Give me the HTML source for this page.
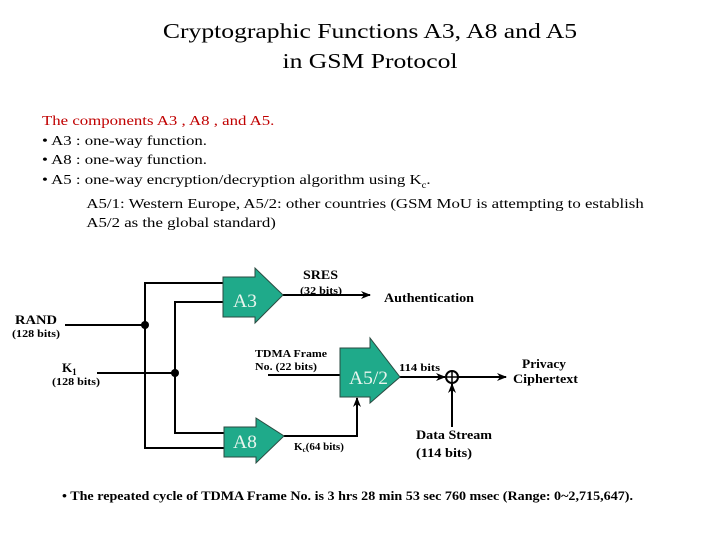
<!DOCTYPE html>
<html><head><meta charset="utf-8"><style>
body{margin:0;width:720px;height:540px;background:#fff;position:relative;font-family:"Liberation Serif",serif;overflow:hidden}
.t{position:absolute;white-space:nowrap}
</style></head><body>
<div class="t" style="left:0;width:740px;text-align:center;top:16px;font-size:21px;line-height:30px;transform:scaleX(1.22);transform-origin:370px 0">Cryptographic Functions A3, A8 and A5<br>in GSM Protocol</div>
<div class="t" style="left:42px;top:112px;font-size:14px;line-height:19.5px;transform:scaleX(1.2);transform-origin:0 0">
<span style="color:#c00000">The components A3 , A8 , and A5.</span><br>
• A3 : one-way function.<br>
• A8 : one-way function.<br>
• A5 : one-way encryption/decryption algorithm using K<sub style="font-size:9px">c</sub>.<br>
<span style="padding-left:37px">A5/1: Western Europe, A5/2: other countries (GSM MoU is attempting to establish</span><br>
<span style="padding-left:37px">A5/2 as the global standard)</span></div>
<svg width="720" height="540" style="position:absolute;left:0;top:0" font-family="Liberation Serif,serif" font-weight="bold">
<defs><marker id="a" markerWidth="10" markerHeight="8" refX="9" refY="4" orient="auto" markerUnits="userSpaceOnUse"><path d="M0,0L10,4L0,8L3,4z" fill="#000"/></marker></defs>
<g stroke="#000" stroke-width="2" fill="none">
<polyline points="223,283 145,283 145,448 224,448"/>
<polyline points="223,302 175,302 175,433 224,433"/>
<line x1="65" y1="325" x2="145" y2="325"/>
<line x1="97" y1="373" x2="175" y2="373"/>
<line x1="283" y1="295" x2="370" y2="295" marker-end="url(#a)"/>
<polyline points="284,436 357,436 357,398" marker-end="url(#a)"/>
<line x1="268" y1="375" x2="340" y2="375"/>
<line x1="400" y1="377" x2="445" y2="377" marker-end="url(#a)"/>
<line x1="458" y1="377" x2="506" y2="377" marker-end="url(#a)"/>
<line x1="452" y1="427" x2="452" y2="384" marker-end="url(#a)"/>
<circle cx="452" cy="377" r="6"/>
<line x1="446" y1="377" x2="458" y2="377" stroke-width="1.5"/>
<line x1="452" y1="371" x2="452" y2="383" stroke-width="1.5"/>
</g>
<circle cx="145" cy="325" r="4"/><circle cx="175" cy="373" r="4"/>
<g fill="#1faa8a" stroke="#2a4a40" stroke-width="1">
<path d="M223,277H255V268L283,295L255,323V317H223Z"/>
<path d="M224,427H256V418L284,436L256,463V457H224Z"/>
<path d="M340,348H370V338L400,377L370,403V397H340Z"/>
</g>
<g fill="#e8f5ee" font-weight="normal" font-size="19">
<text x="233" y="307" textLength="24" lengthAdjust="spacingAndGlyphs">A3</text><text x="233" y="448" textLength="24" lengthAdjust="spacingAndGlyphs">A8</text><text x="349" y="384" textLength="39" lengthAdjust="spacingAndGlyphs">A5/2</text>
</g>
<g font-size="12" lengthAdjust="spacingAndGlyphs">
<text x="303" y="279" font-size="13" textLength="35" lengthAdjust="spacingAndGlyphs">SRES</text>
<text x="300" y="294" font-size="10" textLength="42" lengthAdjust="spacingAndGlyphs">(32 bits)</text>
<text x="384" y="302" font-size="13" textLength="90" lengthAdjust="spacingAndGlyphs">Authentication</text>
<text x="15" y="324" font-size="13" textLength="42" lengthAdjust="spacingAndGlyphs">RAND</text>
<text x="12" y="337" font-size="10" textLength="48" lengthAdjust="spacingAndGlyphs">(128 bits)</text>
<text x="62" y="372" font-size="13">K<tspan font-size="9" dy="3">1</tspan></text>
<text x="52" y="385" font-size="10" textLength="48" lengthAdjust="spacingAndGlyphs">(128 bits)</text>
<text x="255" y="357" font-size="11" textLength="72" lengthAdjust="spacingAndGlyphs">TDMA Frame</text>
<text x="255" y="370" font-size="11" textLength="62" lengthAdjust="spacingAndGlyphs">No. (22 bits)</text>
<text x="399" y="371" font-size="11" textLength="41" lengthAdjust="spacingAndGlyphs">114 bits</text>
<text x="522" y="368" font-size="13" textLength="44" lengthAdjust="spacingAndGlyphs">Privacy</text>
<text x="513" y="383" font-size="13" textLength="65" lengthAdjust="spacingAndGlyphs">Ciphertext</text>
<text x="294" y="450" font-size="11">K<tspan font-size="7" dy="2">c</tspan><tspan dy="-2">(64 bits)</tspan></text>
<text x="416" y="439" font-size="13" textLength="76" lengthAdjust="spacingAndGlyphs">Data Stream</text>
<text x="416" y="457" font-size="13" textLength="56" lengthAdjust="spacingAndGlyphs">(114 bits)</text>
</g>
<text x="62" y="500" font-size="12.5" textLength="571" lengthAdjust="spacingAndGlyphs">• The repeated cycle of TDMA Frame No. is 3 hrs 28 min 53 sec 760 msec (Range: 0~2,715,647).</text>
</svg>
</body></html>
